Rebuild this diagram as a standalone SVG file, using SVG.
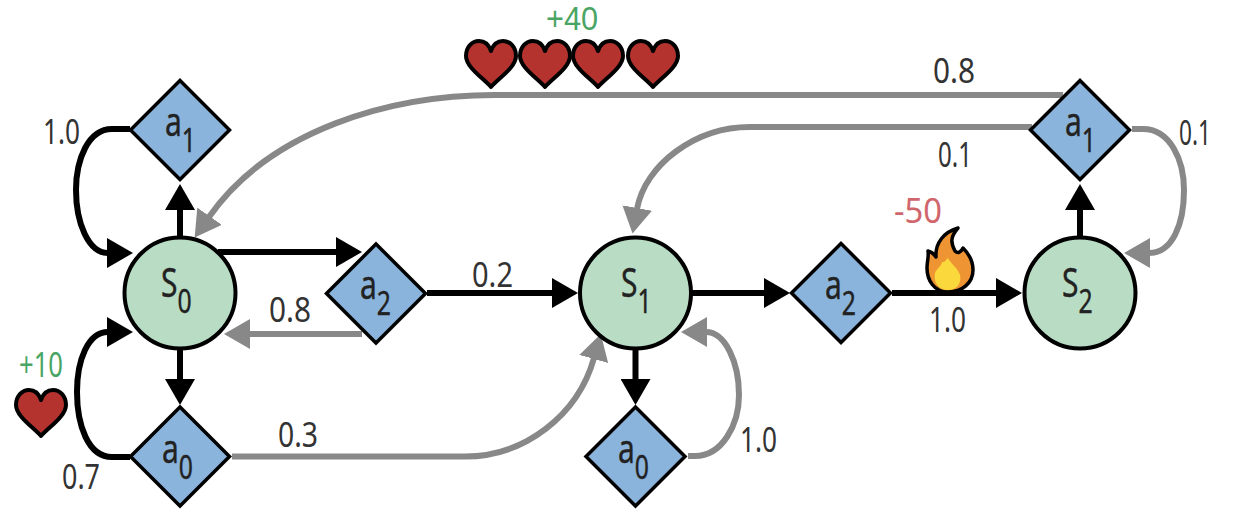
<svg xmlns="http://www.w3.org/2000/svg" width="1240" height="522" viewBox="0 0 1240 522">
<style>
text{font-family:"Noto Sans","Liberation Sans",sans-serif}
.l{font-size:34px;fill:#333}
.g{font-size:34px;fill:#4aa564}
.r{font-size:34px;fill:#d0666c}
.n{font-size:40px;fill:#222;stroke:#222;stroke-width:.4}
.n tspan{font-size:33px}
.st{fill:#b9dcc5;stroke:#000;stroke-width:4}
.ac{fill:#8ab4dc;stroke:#000;stroke-width:3.5}
.c{fill:none;stroke-width:6}
.k{stroke:#000;marker-end:url(#ak)}
.y{stroke:#888;marker-end:url(#ay)}
.h{fill:#b5332f;stroke:#000;stroke-width:4;stroke-linejoin:round}
</style>
<defs>
<marker id="ak" markerUnits="userSpaceOnUse" viewBox="0 0 26 30" refX="1" refY="15" markerWidth="26" markerHeight="30" orient="auto"><path d="M0 0L26 15L0 30Z" fill="#000"/></marker>
<marker id="ay" markerUnits="userSpaceOnUse" viewBox="0 0 26 30" refX="1" refY="15" markerWidth="26" markerHeight="30" orient="auto"><path d="M0 0L26 15L0 30Z" fill="#888"/></marker>
<path id="heart" class="h" d="M0 23C-8 14 -25 3 -25 -8C-25 -17 -19 -23 -12 -23C-6 -23 -2 -19 0 -13C2 -19 6 -23 12 -23C19 -23 25 -17 25 -8C25 3 8 14 0 23Z"/>
<path id="diamond" class="ac" d="M0 -49.500L49.500 0L0 49.500L-49.500 0Z"/>
</defs>
<g id="connectors">
<path class="c y" d="M1063 95H495C390 95 270 130 209 217"/>
<path class="c y" d="M1032 127H750C695 127 645 165 637 209"/>
<path class="c y" d="M1132 129H1143C1170 129 1184 160 1184 190C1184 225 1172 253 1149 253"/>
<path class="c y" d="M362 334H249"/>
<path class="c y" d="M232 456.500H465C525 456.500 578 415 594 358"/>
<path class="c y" d="M688 456H695C722 456 739 425 739 395C739 362 725 332 706 332"/>
<path class="c k" d="M130 129H112C88 129 76 160 76 190C76 222 88 253 108 253"/>
<path class="c k" d="M130 457H112C88 457 77 425 77 392C77 360 88 332 108 332"/>
<path class="c k" d="M180 236V209"/>
<path class="c k" d="M218 252H337"/>
<path class="c k" d="M180 350V380"/>
<path class="c k" d="M427 293H553"/>
<path class="c k" d="M692 293H765"/>
<path class="c k" d="M635.500 350V380"/>
<path class="c k" d="M892 293H997"/>
<path class="c k" d="M1080 236V209"/>
</g>
<g id="s0"><circle class="st" cx="180" cy="293" r="55.500"/><text class="n" transform="translate(161 297) scale(.75 1)">S<tspan dy="16">0</tspan></text></g>
<g id="s1"><circle class="st" cx="635.500" cy="293" r="55.500"/><text class="n" transform="translate(621 297) scale(.75 1)">S<tspan dy="16">1</tspan></text></g>
<g id="s2"><circle class="st" cx="1080" cy="293" r="55.500"/><text class="n" transform="translate(1062 297) scale(.75 1)">S<tspan dy="16">2</tspan></text></g>
<g id="s0-a1"><use href="#diamond" x="180" y="130"/><text class="n" transform="translate(165 136) scale(.75 1)">a<tspan dy="16">1</tspan></text></g>
<g id="s0-a2"><use href="#diamond" x="376" y="293.500"/><text class="n" transform="translate(360 299) scale(.75 1)">a<tspan dy="16">2</tspan></text></g>
<g id="s0-a0"><use href="#diamond" x="180" y="456.500"/><text class="n" transform="translate(162 463) scale(.75 1)">a<tspan dy="16">0</tspan></text></g>
<g id="s1-a2"><use href="#diamond" x="841" y="293"/><text class="n" transform="translate(825 299) scale(.75 1)">a<tspan dy="16">2</tspan></text></g>
<g id="s1-a0"><use href="#diamond" x="635.500" y="456.500"/><text class="n" transform="translate(618 463) scale(.75 1)">a<tspan dy="16">0</tspan></text></g>
<g id="s2-a1"><use href="#diamond" x="1080" y="130"/><text class="n" transform="translate(1065 136) scale(.75 1)">a<tspan dy="16">1</tspan></text></g>
<g id="rewards">
<use href="#heart" x="491" y="64"/><use href="#heart" x="545" y="64"/><use href="#heart" x="598" y="64"/><use href="#heart" x="653" y="64"/>
<use href="#heart" x="41" y="413"/>
<text class="g" x="546" y="30" textLength="52" lengthAdjust="spacingAndGlyphs" style="font-family:'Liberation Sans',sans-serif;font-size:33px">+40</text>
<text class="g" x="19" y="377" textLength="44" lengthAdjust="spacingAndGlyphs">+10</text>
<text class="r" x="894" y="223" textLength="48" lengthAdjust="spacingAndGlyphs">-50</text>
</g>
<g id="fire">
<path fill="#ef9433" stroke="#000" stroke-width="3.500" stroke-linejoin="round" d="M948 292C934 292 927 280 927 268C927 261 929 257 928 251C932 252 934 254 936 257C935 243 944 232 958 228C951 236 950 242 955 251C958 254 961 252 963 248C970 255 973 263 973 270C973 283 962 292 948 292Z"/>
<path fill="#fbd83c" d="M948 290C939 290 933 283 935 273C937 268 941 267 942 262C945 263 946 259 948 258C951 264 958 268 960 275C962 284 956 290 948 290Z"/>
</g>
<g id="labels">
<text class="l" x="933" y="83" textLength="42" lengthAdjust="spacingAndGlyphs">0.8</text>
<text class="l" x="938" y="167" textLength="34" lengthAdjust="spacingAndGlyphs">0.1</text>
<text class="l" x="1179" y="145" textLength="32" lengthAdjust="spacingAndGlyphs">0.1</text>
<text class="l" x="43" y="144" textLength="37" lengthAdjust="spacingAndGlyphs">1.0</text>
<text class="l" x="472" y="287" textLength="41" lengthAdjust="spacingAndGlyphs">0.2</text>
<text class="l" x="269" y="322" textLength="42" lengthAdjust="spacingAndGlyphs">0.8</text>
<text class="l" x="278" y="447" textLength="40" lengthAdjust="spacingAndGlyphs">0.3</text>
<text class="l" x="62" y="489" textLength="38" lengthAdjust="spacingAndGlyphs">0.7</text>
<text class="l" x="929" y="332" textLength="37" lengthAdjust="spacingAndGlyphs">1.0</text>
<text class="l" x="740" y="452" textLength="37" lengthAdjust="spacingAndGlyphs">1.0</text>
</g>
</svg>
